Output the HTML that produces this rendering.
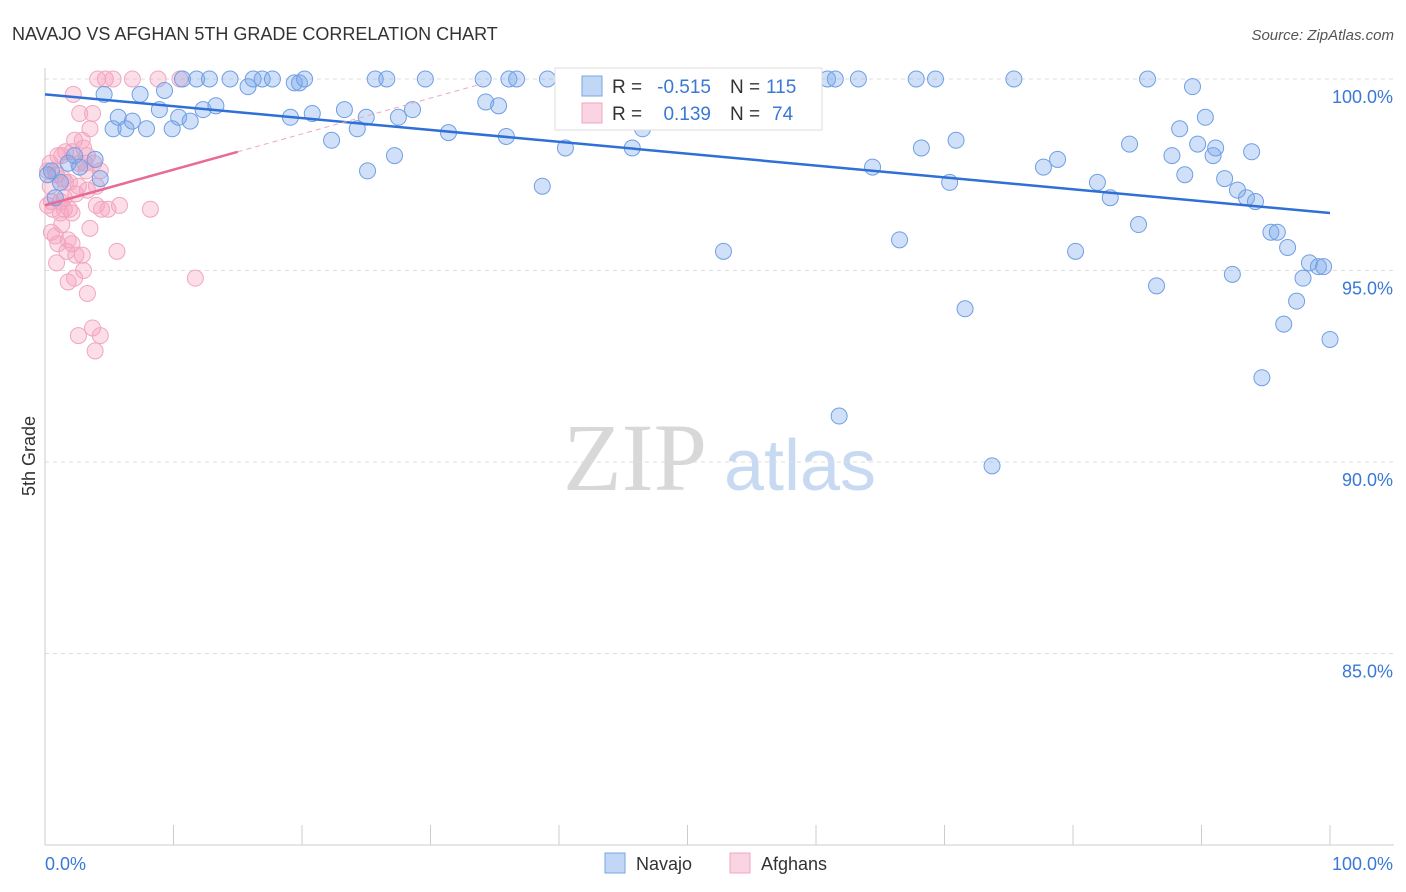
<!DOCTYPE html>
<html><head><meta charset="utf-8"><style>
body{margin:0;background:#fff;font-family:"Liberation Sans",sans-serif;}
#wrap{position:relative;width:1406px;height:892px;overflow:hidden;}
</style></head><body>
<div id="wrap">
<svg id="chart" width="1406" height="892" xmlns="http://www.w3.org/2000/svg">
<text x="12" y="40" font-size="18" fill="#333">NAVAJO VS AFGHAN 5TH GRADE CORRELATION CHART</text>
<text x="1394" y="40" font-size="15" fill="#555" text-anchor="end" font-style="italic">Source: ZipAtlas.com</text>
<text x="35" y="456" font-size="18" fill="#333" text-anchor="middle" transform="rotate(-90 35 456)">5th Grade</text>
<g>
<text x="635" y="490" font-size="96" fill="#d8d8d8" text-anchor="middle" font-family="Liberation Serif,serif">ZIP</text>
<text x="800" y="490" font-size="72" fill="#c8daf2" text-anchor="middle">atlas</text>
</g>
<g id="grid"></g>
<g id="axes"></g>
<g id="pts"></g>
<g id="trend"></g>
<g>
<rect x="555" y="68" width="267" height="62" fill="#fff" stroke="#ddd"/>
<rect x="582" y="76" width="20" height="20" fill="rgba(120,165,235,0.45)" stroke="#7aa6e6"/>
<rect x="582" y="103" width="20" height="20" fill="rgba(245,160,190,0.45)" stroke="#f0a6c0"/>
<text x="612" y="93" font-size="19" fill="#333">R =</text>
<text x="711" y="93" font-size="19" fill="#3a78d6" text-anchor="end">-0.515</text>
<text x="730" y="93" font-size="19" fill="#333">N =</text>
<text x="766" y="93" font-size="19" fill="#3a78d6">115</text>
<text x="612" y="120" font-size="19" fill="#333">R =</text>
<text x="711" y="120" font-size="19" fill="#3a78d6" text-anchor="end">0.139</text>
<text x="730" y="120" font-size="19" fill="#333">N =</text>
<text x="772" y="120" font-size="19" fill="#3a78d6">74</text>
</g>
<g>
<rect x="605" y="853" width="20" height="20" fill="rgba(120,165,235,0.45)" stroke="#7aa6e6"/>
<text x="636" y="870" font-size="18" fill="#333">Navajo</text>
<rect x="730" y="853" width="20" height="20" fill="rgba(245,160,190,0.45)" stroke="#f0a6c0"/>
<text x="761" y="870" font-size="18" fill="#333">Afghans</text>
</g>
</svg>
</div>
<script>
const yTicks=[100,95,90,85];
const yTickLabels=["100.0%","95.0%","90.0%","85.0%"];
const xTickLabels=["0.0%","100.0%"];
const navajoX=[0.2,0.5,0.8,1.2,1.8,2.3,2.7,3.9,4.3,4.6,5.3,5.7,6.3,6.8,7.4,7.9,8.9,9.3,9.9,10.4,10.7,11.3,11.8,12.3,12.8,13.3,14.4,15.8,16.2,16.9,17.7,19.1,19.4,19.8,20.2,20.8,22.3,23.3,24.3,25.0,25.1,25.7,26.6,27.2,27.5,28.6,29.6,31.4,34.1,34.3,35.3,35.9,36.1,36.7,38.7,39.1,40.5,40.7,45.7,46.5,46.9,52.2,52.8,56.4,58.1,60.9,61.5,61.8,63.3,64.4,66.5,67.8,68.2,69.3,70.4,70.9,71.6,73.7,75.4,77.7,78.8,80.2,81.9,82.9,84.4,85.1,85.8,86.5,87.7,88.3,88.7,89.3,89.7,90.3,90.9,91.1,91.8,92.4,92.8,93.5,93.9,94.2,94.7,95.4,95.9,96.4,96.7,97.4,97.9,98.4,99.1,99.5,100];
const navajoY=[97.5,97.6,96.9,97.3,97.8,98.0,97.7,97.9,97.4,99.6,98.7,99.0,98.7,98.9,99.6,98.7,99.2,99.7,98.7,99.0,100,98.9,100,99.2,100,99.3,100,99.8,100,100,100,99.0,99.9,99.9,100,99.1,98.4,99.2,98.7,99.0,97.6,100,100,98.0,99.0,99.2,100,98.6,100,99.4,99.3,98.5,100,100,97.2,100,98.2,100,98.2,98.7,98.9,100,95.5,99.3,100,100,100,91.2,100,97.7,95.8,100,98.2,100,97.3,98.4,94.0,89.9,100,97.7,97.9,95.5,97.3,96.9,98.3,96.2,100,94.6,98.0,98.7,97.5,99.8,98.3,99.0,98.0,98.2,97.4,94.9,97.1,96.9,98.1,96.8,92.2,96.0,96.0,93.6,95.6,94.2,94.8,95.2,95.1,95.1,93.2];
const afghanX=[0.2,0.4,0.5,0.6,0.8,0.9,1.0,1.2,1.3,1.4,1.6,1.8,1.9,2.1,2.2,2.3,2.4,2.6,2.7,2.9,3.0,3.1,3.3,3.3,3.5,3.7,3.9,4.0,4.1,4.3,4.4,4.7,4.9,5.3,5.6,5.8,6.8,8.2,8.8,10.5,11.7,0.5,0.9,1.2,1.5,1.7,1.9,2.3,2.6,2.9,3.2,3.5,3.8,1.0,1.5,2.1,2.4,3.0,0.2,0.4,0.8,1.3,1.6,1.8,2.1,2.6,3.3,3.7,4.0,4.3];
const afghanY=[97.6,97.2,96.8,96.6,95.9,95.2,98.0,96.5,96.2,97.4,98.1,94.7,97.3,95.7,99.6,94.8,97.0,93.3,99.1,98.4,95.0,97.8,94.4,97.1,98.7,93.5,92.9,96.7,100,93.3,96.6,100,96.6,100,95.5,96.7,100,96.6,100,100,94.8,96.0,97.5,96.8,96.6,95.5,96.6,98.4,97.8,95.4,97.6,96.1,97.8,95.7,96.9,98.1,95.4,98.2,96.7,97.8,97.6,98.0,97.3,95.8,96.5,97.2,98.0,99.1,97.2,97.6];
const navajoTrend=[99.6,96.5]; // y at x=0 and x=100
const afghanTrend=[96.7,98.1]; // y at x=0 and x=15
const NS="http://www.w3.org/2000/svg";
const X0=45,X1=1330,Y100=79,PXPER=38.3;
const xs=v=>X0+(X1-X0)*v/100;
const ys=v=>Y100+(100-v)*PXPER;
function mk(tag,attrs,parent){const e=document.createElementNS(NS,tag);for(const k in attrs)e.setAttribute(k,attrs[k]);parent.appendChild(e);return e;}
const grid=document.getElementById('grid'),axes=document.getElementById('axes'),pts=document.getElementById('pts'),tr=document.getElementById('trend');
yTicks.forEach((t,i)=>{
 const l=mk('line',{x1:X0,x2:1394,y1:ys(t),y2:ys(t),stroke:'#ddd','stroke-dasharray':'4,4'},grid);
 
 
 const tx=mk('text',{x:1393,y:ys(t)+24,'font-size':18,fill:'#3a78d6','text-anchor':'end'},axes);
 tx.textContent=yTickLabels[i];
 
 
});
const bl=mk('line',{x1:X0,x2:1394,y1:845,y2:845,stroke:'#ccc'},axes);


const ll=mk('line',{x1:X0,x2:X0,y1:68,y2:845,stroke:'#ccc'},axes);


for(let i=0;i<=10;i++){
 const tk=mk('line',{x1:xs(i*10),x2:xs(i*10),y1:825,y2:845,stroke:'#ccc'},axes);
 
 
}
const xl0=mk('text',{x:45,y:870,'font-size':18,fill:'#3a78d6'},axes);xl0.textContent=xTickLabels[0];


const xl1=mk('text',{x:1393,y:870,'font-size':18,fill:'#3a78d6','text-anchor':'end'},axes);xl1.textContent=xTickLabels[1];


afghanX.forEach((x,i)=>{
 const c=mk('circle',{cx:xs(x),cy:ys(afghanY[i]),r:8,fill:'rgba(245,160,190,0.35)',stroke:'#f0a6c0','stroke-width':1},pts);
 
 
});
navajoX.forEach((x,i)=>{
 const c=mk('circle',{cx:xs(x),cy:ys(navajoY[i]),r:8,fill:'rgba(120,165,235,0.35)',stroke:'#6f9fe4','stroke-width':1},pts);
 
 
});
const nt=mk('line',{x1:xs(0),y1:ys(navajoTrend[0]),x2:xs(100),y2:ys(navajoTrend[1]),stroke:'#2f6fd6','stroke-width':2.5},tr);


const slope=(afghanTrend[1]-afghanTrend[0])/15;
const at=mk('line',{x1:xs(0),y1:ys(afghanTrend[0]),x2:xs(15),y2:ys(afghanTrend[1]),stroke:'#e86b96','stroke-width':2.5},tr);


const ad=mk('line',{x1:xs(15),y1:ys(afghanTrend[1]),x2:xs(34),y2:ys(afghanTrend[0]+slope*34),stroke:'#f0a6c0','stroke-width':1,'stroke-dasharray':'5,4'},tr);


</script>
</body></html>
